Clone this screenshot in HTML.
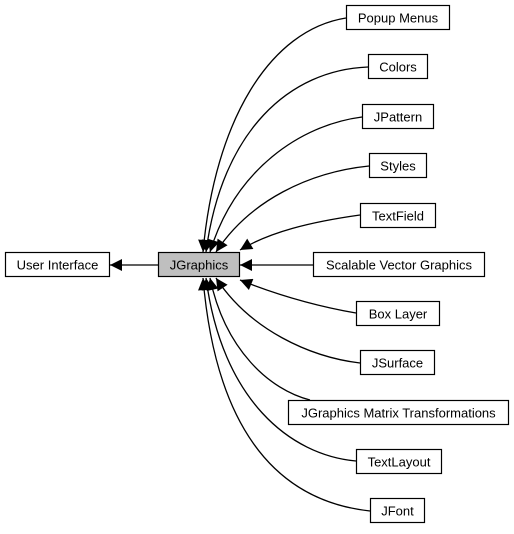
<!DOCTYPE html>
<html><head><meta charset="utf-8"><style>
html,body{margin:0;padding:0;background:#fff;}
svg text{font-family:"Liberation Sans",Arial,sans-serif;font-size:13px;text-anchor:middle;}
</style></head><body>
<svg width="514" height="529" viewBox="0 0 514 529" xmlns="http://www.w3.org/2000/svg">
<defs><marker id="a" viewBox="0 0 10 10" refX="10" refY="5" markerWidth="14" markerHeight="12" markerUnits="userSpaceOnUse" orient="auto"><path d="M0,0L10,5L0,10z" fill="#000"/></marker></defs>
<g fill="none" stroke="#000" stroke-width="1.3">
<path d="M346,18 C270,30 215,120 203,252" marker-end="url(#a)"/>
<path d="M368,67 C290,70 222,130 206,252" marker-end="url(#a)"/>
<path d="M362,117 C300,125 235,170 210,252" marker-end="url(#a)"/>
<path d="M369,166 C310,172 250,200 216,252" marker-end="url(#a)"/>
<path d="M360,215 C310,222 270,232 240,250" marker-end="url(#a)"/>
<path d="M313,265 L240,265" marker-end="url(#a)"/>
<path d="M356,313 C310,305 270,292 240,280" marker-end="url(#a)"/>
<path d="M360,363 C310,357 250,330 216,278" marker-end="url(#a)"/>
<path d="M310,400 C270,390 225,350 210,278" marker-end="url(#a)"/>
<path d="M356,461 C290,455 222,400 206,278" marker-end="url(#a)"/>
<path d="M370,511 C270,500 215,420 203,278" marker-end="url(#a)"/>
<path d="M158,265 L110,265" marker-end="url(#a)"/>
</g>
<g stroke="#000" stroke-width="1.2" fill="#fff">
<rect x="5.5" y="252.5" width="104" height="24"/>
<rect x="158.5" y="252.5" width="81" height="24" fill="#bfbfbf"/>
<rect x="346.5" y="5.5" width="103" height="24"/>
<rect x="368.5" y="54.5" width="59" height="24"/>
<rect x="362.5" y="104.5" width="71" height="24"/>
<rect x="369.5" y="153.5" width="57" height="24"/>
<rect x="360.5" y="203.5" width="75" height="24"/>
<rect x="313.5" y="252.5" width="171" height="24"/>
<rect x="356.5" y="301.5" width="83" height="24"/>
<rect x="360.5" y="350.5" width="74" height="24"/>
<rect x="288.5" y="400.5" width="220" height="24"/>
<rect x="356.5" y="449.5" width="85" height="24"/>
<rect x="370.5" y="498.5" width="54" height="24"/>
</g>
<g fill="#000">
<text x="57.5" y="269.5">User Interface</text>
<text x="199" y="269.5">JGraphics</text>
<text x="398" y="22.5">Popup Menus</text>
<text x="398" y="71.5">Colors</text>
<text x="398" y="121.5">JPattern</text>
<text x="398" y="170.5">Styles</text>
<text x="398" y="220.5">TextField</text>
<text x="399" y="269.5">Scalable Vector Graphics</text>
<text x="398" y="318.5">Box Layer</text>
<text x="397.5" y="367.5">JSurface</text>
<text x="398.5" y="417.5">JGraphics Matrix Transformations</text>
<text x="399" y="466.5">TextLayout</text>
<text x="397.5" y="515.5">JFont</text>
</g>
</svg>
</body></html>
